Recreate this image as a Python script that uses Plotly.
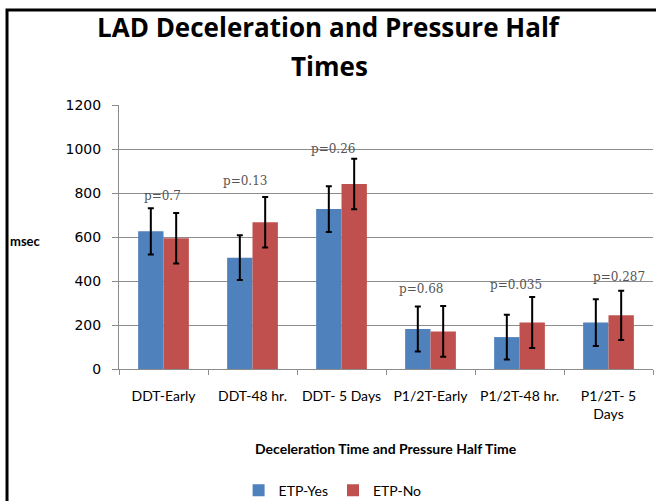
import plotly.graph_objects as go

categories = ["DDT-Early", "DDT-48 hr.", "DDT- 5 Days", "P1/2T-Early", "P1/2T-48 hr.", "P1/2T- 5<br>Days"]
etp_yes = [626, 506, 727, 182, 145, 211]
etp_yes_err = [105, 102, 104, 102, 102, 106]
etp_no = [594, 667, 841, 171, 211, 244]
etp_no_err = [115, 115, 115, 115, 116, 112]
p_values = ["p=0.7", "p=0.13", "p=0.26", "p=0.68", "p=0.035", "p=0.287"]
p_label_y = [786, 855, 1000, 364, 382, 418]
p_label_shift = [-1, -8, -9, -10, -4, 10]

fig = go.Figure()
fig.add_trace(go.Bar(
    x=categories, y=etp_yes, name="ETP-Yes",
    marker=dict(color="#4F81BD", line=dict(width=0)),
    error_y=dict(type="data", array=etp_yes_err, color="black", thickness=2, width=3),
))
fig.add_trace(go.Bar(
    x=categories, y=etp_no, name="ETP-No",
    marker=dict(color="#C0504D", line=dict(width=0)),
    error_y=dict(type="data", array=etp_no_err, color="black", thickness=2, width=3),
))

for cat, txt, yy, sh in zip(categories, p_values, p_label_y, p_label_shift):
    fig.add_annotation(x=cat, y=yy, xref="x", yref="y", text=txt, showarrow=False,
                       xshift=sh, font=dict(family="DejaVu Serif", size=12, color="#555555"))

# title lines
fig.add_annotation(x=0.5, y=1.2955, xref="paper", yref="paper", xanchor="center", yanchor="middle",
                   text="<b>LAD Deceleration and Pressure Half</b>", showarrow=False,
                   xshift=-57, font=dict(family="Open Sans", size=26, color="black"))
fig.add_annotation(x=0.5, y=1.1477, xref="paper", yref="paper", xanchor="center", yanchor="middle",
                   text="<b>Times</b>", showarrow=False,
                   xshift=-57, font=dict(family="Open Sans", size=26, color="black"))

fig.add_annotation(x=-0.208, y=0.485, xref="paper", yref="paper", text="<b>msec</b>",
                   showarrow=False, xanchor="left", font=dict(family="Lato", size=13, color="black"))

fig.add_annotation(x=0.5, y=-0.303, xref="paper", yref="paper", xanchor="center", yanchor="middle",
                   text="<b>Deceleration Time and Pressure Half Time</b>", showarrow=False,
                   font=dict(family="Lato", size=14, color="black"))

fig.add_shape(type="rect", xref="paper", yref="paper",
              x0=-0.2097, x1=1.05, y0=-0.6, y1=1.3598,
              line=dict(color="black", width=3), fillcolor="rgba(0,0,0,0)")

fig.update_layout(
    width=656, height=501,
    margin=dict(l=119, r=3, t=105, b=132, autoexpand=False),
    paper_bgcolor="white", plot_bgcolor="white",
    barmode="group", bargap=0.43, bargroupgap=0,
    xaxis=dict(
        showgrid=False, showline=True, linecolor="#8c8c8c", linewidth=1,
        ticks="outside", tickson="boundaries", ticklen=5, tickcolor="#8c8c8c",
        ticklabelstandoff=14,
        tickfont=dict(family="Lato", size=14, color="black"),
    ),
    yaxis=dict(
        range=[0, 1200], dtick=200, showgrid=True, gridcolor="#8c8c8c", gridwidth=1,
        showline=True, linecolor="#8c8c8c", linewidth=1,
        ticks="outside", ticklen=6, tickcolor="#8c8c8c", ticklabelstandoff=8,
        tickfont=dict(family="DejaVu Sans", size=14, color="black"),
        zeroline=False,
    ),
    legend=dict(orientation="h", x=0.40, xanchor="center", y=-0.400, yanchor="top",
                itemwidth=30,
                font=dict(family="Lato", size=14, color="black"), traceorder="normal"),
)

fig.write_html("out.html", config={"displayModeBar": False},
               post_script="document.body.style.margin='0';document.body.style.overflow='hidden';")
